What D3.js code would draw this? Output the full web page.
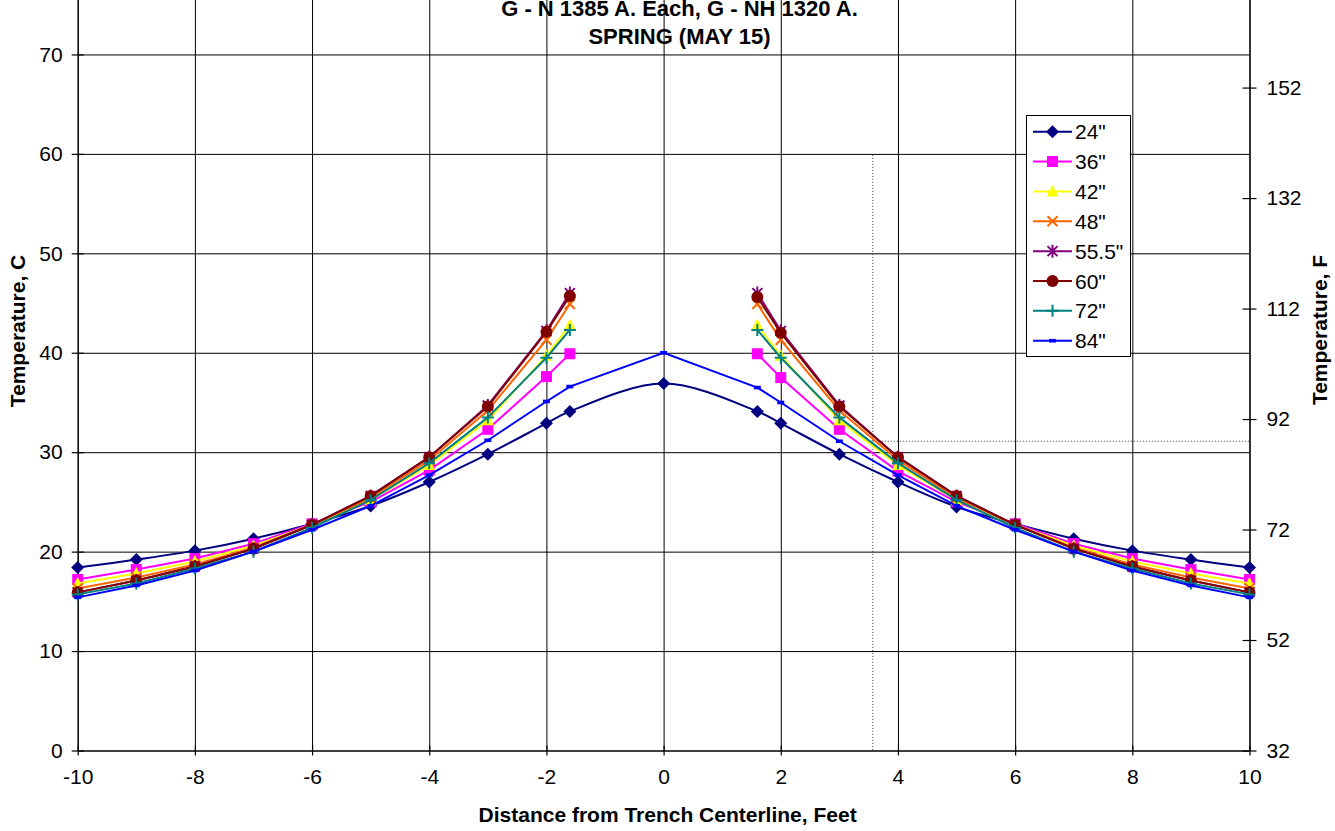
<!DOCTYPE html>
<html>
<head>
<meta charset="utf-8">
<script src="https://cdn.jsdelivr.net/npm/d3@7"></script>
<style>
  body { margin: 0; background: #fff; }
  text { font-family: Arial, "Liberation Sans", sans-serif; fill: #000; }
</style>
</head>
<body>
<div id="chart"></div>
<script>
/* Trench temperature profiles, Excel-style line chart */

const width = 1335,
  height = 831,
  margin = ({ top: -45, right: 85.5, bottom: 80.5, left: 77.7 });

// distance from trench centerline (ft)
const distance = [-10, -9, -8, -7, -6, -5, -4, -3, -2, -1.6, 0, 1.6, 2, 3, 4, 5, 6, 7, 8, 9, 10];

// temperatures (C) per burial depth
const d24 = [18.4, 19.2, 20.1, 21.3, 22.8, 24.6, 27.0, 29.8, 32.9, 34.1, 36.9, 34.1, 32.9, 29.8, 27.0, 24.5, 22.8, 21.3, 20.1, 19.2, 18.4];
const d36 = [17.2, 18.2, 19.3, 20.8, 22.8, 25.0, 28.2, 32.3, 37.6, 39.9, null, 39.9, 37.5, 32.3, 28.1, 25.0, 22.8, 20.8, 19.3, 18.2, 17.2];
const d42 = [16.8, 17.8, 19.0, 20.6, 22.7, 25.2, 28.7, 33.2, 39.7, 42.8, null, 42.8, 39.7, 33.2, 28.7, 25.2, 22.7, 20.6, 19.0, 17.8, 16.8];
const d48 = [16.3, 17.4, 18.7, 20.4, 22.7, 25.4, 29.2, 34.2, 41.3, 44.9, null, 44.9, 41.3, 34.2, 29.2, 25.4, 22.7, 20.4, 18.7, 17.4, 16.3];
const d555 = [15.9, 17.1, 18.5, 20.3, 22.7, 25.6, 29.5, 34.7, 42.2, 46.0, null, 46.0, 42.2, 34.7, 29.5, 25.6, 22.7, 20.3, 18.5, 17.1, 15.9];
const d60 = [15.9, 17.1, 18.5, 20.3, 22.7, 25.6, 29.5, 34.6, 42.1, 45.7, null, 45.6, 42.0, 34.6, 29.5, 25.6, 22.7, 20.3, 18.5, 17.1, 15.9];
const d72 = [15.7, 16.8, 18.3, 20.0, 22.4, 25.2, 28.9, 33.5, 39.5, 42.3, null, 42.3, 39.5, 33.5, 28.9, 25.2, 22.4, 20.0, 18.3, 16.8, 15.7];
const d84 = [15.4, 16.6, 18.1, 20.0, 22.2, 24.6, 27.7, 31.2, 35.1, 36.6, 40.0, 36.5, 35.0, 31.1, 27.7, 24.6, 22.2, 20.0, 18.1, 16.6, 15.4];

const seriesNames = ['24"', '36"', '42"', '48"', '55.5"', '60"', '72"', '84"'];
const seriesValues = [d24, d36, d42, d48, d555, d60, d72, d84];
const seriesColors = ["#000080", "#FF00FF", "#FFFF00", "#FF6600", "#800080", "#800000", "#008080", "#0000FF"];
const seriesMarkers = ["diamond", "square", "triangle", "x", "star", "circle", "plus", "dash"];

const xTicks = [-10, -8, -6, -4, -2, 0, 2, 4, 6, 8, 10];
const yTicks = [0, 10, 20, 30, 40, 50, 60, 70];
const fTicks = [32, 52, 72, 92, 112, 132, 152];

const titleLines = ["G - N 1385 A. Each, G - NH 1320 A.", "SPRING (MAY 15)"];

// dotted reference lines (ft, C)
const refX = 3.57, refXTop = 59.9, refY = 31.1;

const svg = d3.select("#chart")
  .append("svg")
  .attr("width", width)
  .attr("height", height)
  .attr("viewBox", [0, 0, width, height]);

let x = d3.scaleLinear()
  .domain([-10, 10])
  .range([margin.left, width - margin.right]);

let y = d3.scaleLinear()
  .domain([0, 80])
  .range([height - margin.bottom, margin.top]);

// Fahrenheit axis shares the same range
let yF = d3.scaleLinear()
  .domain([32, 32 + 80 * 1.8])
  .range([height - margin.bottom, margin.top]);

// gridlines
svg.append("g")
  .attr("transform", `translate(${margin.left},0)`)
  .call(d3.axisLeft(y).tickValues(yTicks).tickSize(-(width - margin.left - margin.right)).tickFormat(""))
  .call(g => g.select(".domain").remove())
  .selectAll("line").attr("stroke", "#000").attr("stroke-width", 1);

svg.append("g")
  .attr("transform", `translate(0,${height - margin.bottom})`)
  .call(d3.axisBottom(x).tickValues(xTicks).tickSize(-(height - margin.bottom - margin.top)).tickFormat(""))
  .call(g => g.select(".domain").remove())
  .selectAll("line").attr("stroke", "#000").attr("stroke-width", 1);

// dotted reference lines
svg.append("line")
  .attr("x1", x(refX)).attr("x2", x(refX))
  .attr("y1", y(refXTop)).attr("y2", y(0))
  .attr("stroke", "#333").attr("stroke-width", 1).attr("stroke-dasharray", "1,2");
svg.append("line")
  .attr("x1", x(refX)).attr("x2", x(10))
  .attr("y1", y(refY)).attr("y2", y(refY))
  .attr("stroke", "#333").attr("stroke-width", 1).attr("stroke-dasharray", "1,2");

// axes
const styleAxis = g => {
  g.select(".domain").attr("stroke", "#000").attr("stroke-width", 1.2);
  g.selectAll("line").attr("stroke", "#000").attr("stroke-width", 1.2);
  g.selectAll("text").attr("font-size", 21).attr("fill", "#000");
};

const plain = d => String(d); // keep ASCII hyphen for negatives

svg.append("g")
  .attr("transform", `translate(${margin.left},0)`)
  .call(d3.axisLeft(y).tickValues(yTicks).tickFormat(plain).tickSizeInner(6).tickSizeOuter(0).tickPadding(9))
  .call(styleAxis)
  .call(g => g.selectAll(".tick line").attr("x2", 6).attr("x1", -6));

svg.append("g")
  .attr("transform", `translate(${width - margin.right},0)`)
  .call(d3.axisRight(yF).tickValues(fTicks).tickFormat(plain).tickSizeInner(6).tickSizeOuter(0).tickPadding(11))
  .call(styleAxis)
  .call(g => g.selectAll(".tick line").attr("x1", -7).attr("x2", 7));

svg.append("g")
  .attr("transform", `translate(0,${height - margin.bottom})`)
  .call(d3.axisBottom(x).tickValues(xTicks).tickFormat(plain).tickSizeInner(5).tickSizeOuter(0).tickPadding(14))
  .call(styleAxis)
  .call(g => g.selectAll(".tick line").attr("y1", -5).attr("y2", 5));

// titles
svg.append("g")
  .selectAll("text")
  .data(titleLines)
  .join("text")
  .attr("x", 679.5)
  .attr("y", (d, i) => 16 + i * 28)
  .attr("text-anchor", "middle")
  .attr("font-size", 22)
  .attr("font-weight", "bold")
  .text(d => d);

svg.append("text")
  .attr("x", (x(-10) + x(10)) / 2 + 4)
  .attr("y", 822)
  .attr("text-anchor", "middle")
  .attr("font-size", 21)
  .attr("font-weight", "bold")
  .text("Distance from Trench Centerline, Feet");

svg.append("text")
  .attr("transform", "translate(25,331) rotate(-90)")
  .attr("text-anchor", "middle")
  .attr("font-size", 21)
  .attr("font-weight", "bold")
  .text("Temperature, C");

svg.append("text")
  .attr("transform", "translate(1327,330) rotate(-90)")
  .attr("text-anchor", "middle")
  .attr("font-size", 21)
  .attr("font-weight", "bold")
  .text("Temperature, F");

// marker shapes
function drawMarker(g, type, color) {
  switch (type) {
    case "diamond":
      g.append("path").attr("d", "M0,-6.5L6.5,0L0,6.5L-6.5,0Z").attr("fill", color);
      break;
    case "square":
      g.append("rect").attr("x", -5.5).attr("y", -5.5).attr("width", 11).attr("height", 11).attr("fill", color);
      break;
    case "triangle":
      g.append("path").attr("d", "M0,-6.5L6,5L-6,5Z").attr("fill", color);
      break;
    case "x":
      g.append("path").attr("d", "M-5,-5L5,5M-5,5L5,-5").attr("stroke", color).attr("stroke-width", 2);
      break;
    case "star":
      g.append("path").attr("d", "M-5,-5L5,5M-5,5L5,-5M0,-6.5V6.5").attr("stroke", color).attr("stroke-width", 2);
      break;
    case "circle":
      g.append("circle").attr("r", 6).attr("fill", color);
      break;
    case "plus":
      g.append("path").attr("d", "M-6,0H6M0,-6V6").attr("stroke", color).attr("stroke-width", 2);
      break;
    case "dash":
      g.append("rect").attr("x", -3.5).attr("y", -1.8).attr("width", 7).attr("height", 3.6).attr("fill", color);
      break;
  }
}

// series
seriesValues.forEach((vals, i) => {
  let data = distance.map((d, j) => ({ x: d, v: vals[j] }));

  let line = d3.line()
    .defined(d => d.v != null)
    .x(d => x(d.x))
    .y(d => y(d.v))
    .curve(i === 0 ? d3.curveCatmullRom : d3.curveLinear);

  svg.append("path")
    .datum(data)
    .attr("d", line)
    .attr("fill", "none")
    .attr("stroke", seriesColors[i])
    .attr("stroke-width", 2);

  svg.append("g")
    .selectAll("g")
    .data(data.filter(d => d.v != null))
    .join("g")
    .attr("transform", d => `translate(${x(d.x)},${y(d.v)})`)
    .each(function () { drawMarker(d3.select(this), seriesMarkers[i], seriesColors[i]); });
});

// legend
const legend = svg.append("g");

legend.append("rect")
  .attr("x", 1026.5).attr("y", 115.5)
  .attr("width", 104).attr("height", 241)
  .attr("fill", "#fff")
  .attr("stroke", "#000")
  .attr("stroke-width", 1);

const item = legend.selectAll("g.item")
  .data(seriesNames)
  .join("g")
  .attr("class", "item")
  .attr("transform", (d, i) => `translate(1033,${131.7 + i * 29.86})`);

item.append("line")
  .attr("x1", 0).attr("x2", 39)
  .attr("stroke", (d, i) => seriesColors[i])
  .attr("stroke-width", 2);

item.append("g")
  .attr("transform", "translate(19.5,0)")
  .each(function (d, i) { drawMarker(d3.select(this), seriesMarkers[i], seriesColors[i]); });

item.append("text")
  .attr("x", 42)
  .attr("dy", "0.36em")
  .attr("font-size", 21)
  .text(d => d);
</script>
</body>
</html>
